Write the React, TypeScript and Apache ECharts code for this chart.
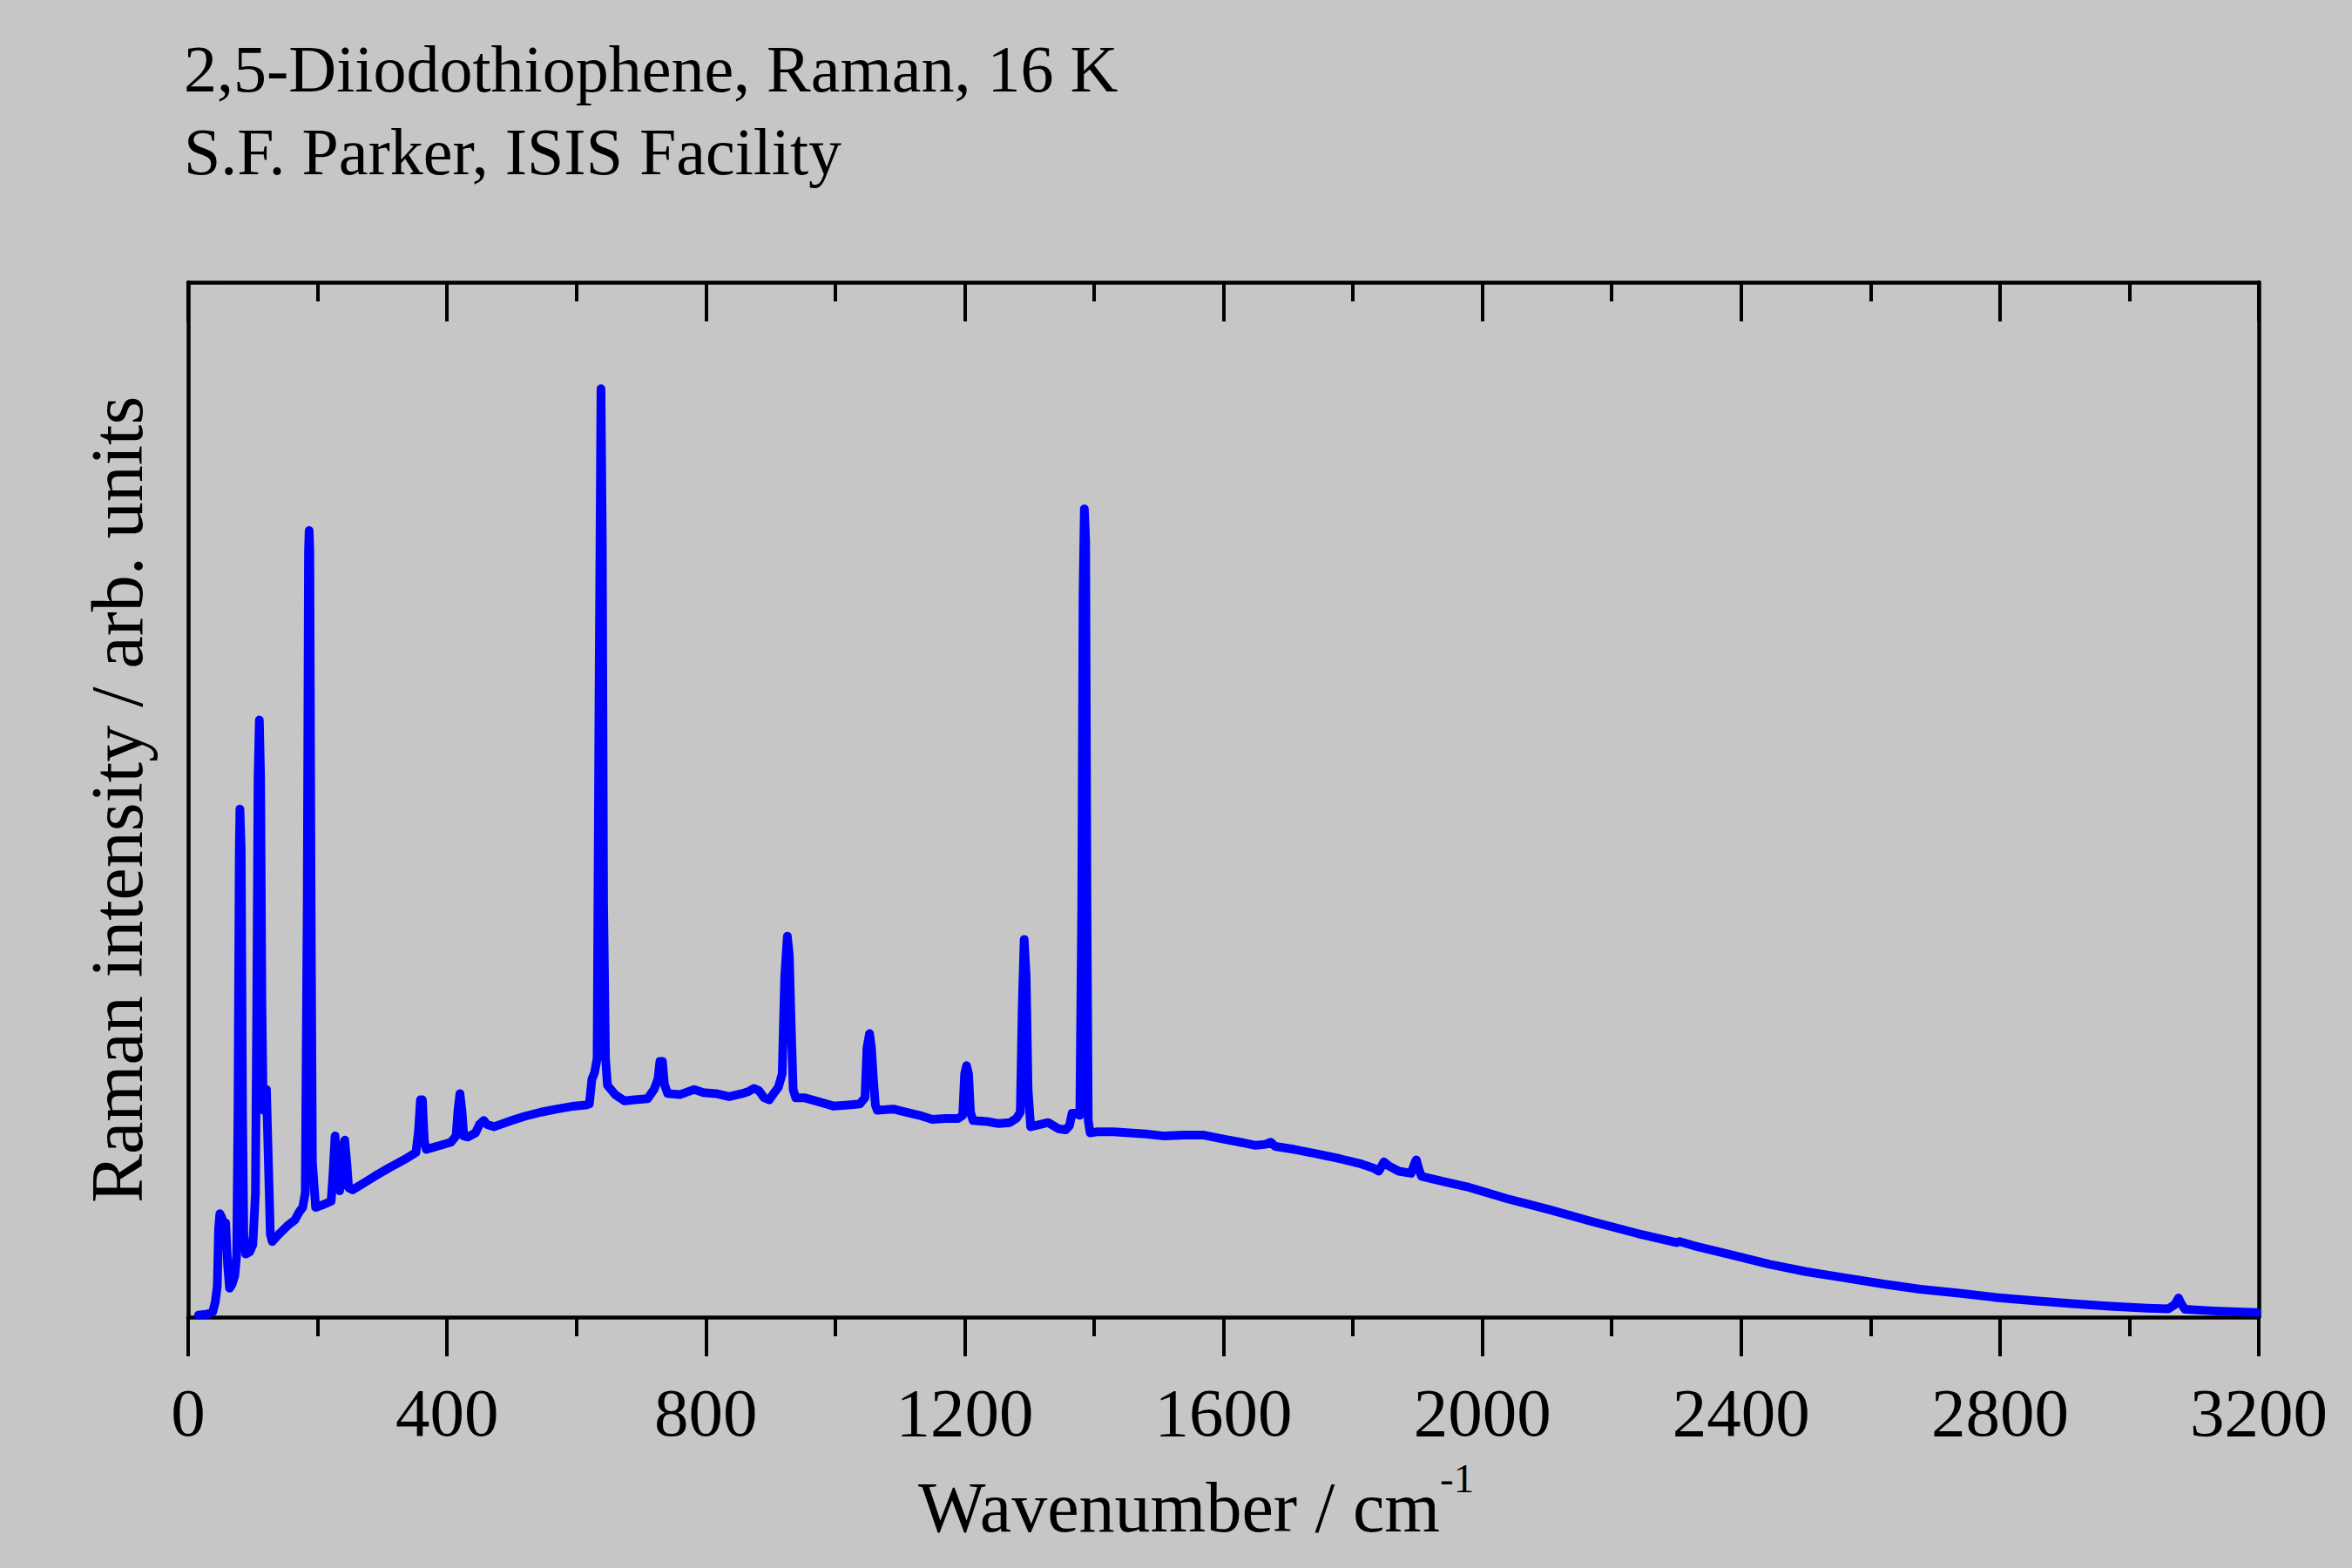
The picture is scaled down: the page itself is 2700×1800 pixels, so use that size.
import React, { useEffect, useRef } from "react";
import * as echarts from "echarts";

// Wavenumber (cm^-1) and Raman intensity (arb. units, 0-100 scale)
const wavenumbers: number[] = [
  16, 30, 38, 42, 45, 47, 49, 52, 55, 58, 61, 64, 68, 72, 75, 77, 79, 80, 82, 84, 86, 89, 95, 100,
  104, 106, 108, 110, 112, 114, 116, 118, 121, 124, 127, 130, 140, 153, 165, 172, 177, 181, 184, 186,
  187, 188, 190, 192, 197, 210, 221, 224, 227, 230, 234, 236, 239, 242, 245, 248, 254, 270, 288, 310,
  339, 352, 356, 359, 362, 365, 368, 373, 390, 406, 414, 417, 420, 423, 426, 432, 444, 450, 457, 462,
  473, 500, 520, 545, 570, 597, 615, 620, 624, 628, 632, 635, 638, 640, 642, 645, 648, 660, 674, 690,
  710, 720, 726, 729, 733, 736, 741, 760, 782, 796, 816, 836, 856, 866, 874, 882, 890, 898, 906, 912,
  918, 922, 926, 929, 932, 935, 939, 952, 975, 997, 1020, 1038, 1046, 1049, 1053, 1056, 1059, 1062,
  1065, 1090, 1110, 1130, 1150, 1170, 1190, 1197, 1200, 1203, 1206, 1209, 1213, 1235, 1253, 1270,
  1280, 1286, 1289, 1292, 1295, 1298, 1302, 1315, 1329, 1345, 1356, 1362, 1366, 1372, 1378, 1381,
  1383, 1385, 1387, 1389, 1391, 1394, 1404, 1430, 1455, 1480, 1509, 1540, 1568, 1600, 1626, 1650,
  1665, 1673, 1680, 1710, 1743, 1780, 1813, 1832, 1840, 1848, 1856, 1871, 1890, 1895, 1898, 1902,
  1906, 1940, 1976, 2038, 2106, 2173, 2240, 2300, 2305, 2327, 2380, 2444, 2500, 2560, 2620,
  2677, 2740, 2794, 2850, 2911, 2970, 3028, 3060, 3070, 3076, 3080, 3086, 3130, 3197,
];

const intensities: number[] = [
  0.2, 0.3, 0.5, 1.5, 3.0, 8.5, 10.0, 9.6, 9.0, 9.1, 5.0, 2.8, 3.2, 4.0, 6.0, 20, 45, 49.1, 45, 20, 8, 6.1, 6.3, 7.0,
  12, 30, 52, 57.7, 52, 30, 20, 21.5, 22, 15, 8, 7.3, 8.0, 8.8, 9.4, 10.2, 10.6, 12, 40, 74,
  76, 74, 40, 15, 10.6, 10.9, 11.2, 14, 17.5, 14, 12.2, 13, 16.5, 17.1, 15, 12.5, 12.3, 12.9, 13.6, 14.4,
  15.4, 15.9, 18, 21, 21, 17, 16.2, 16.3, 16.6, 16.9, 17.5, 20, 21.6, 20, 17.5, 17.4, 17.8, 18.6, 19.0, 18.6,
  18.4, 19.0, 19.4, 19.8, 20.1, 20.4, 20.5, 20.6, 23.0, 23.6, 25, 60, 89.7, 75, 40, 25, 22.4, 21.5, 20.9, 21.0,
  21.1, 22.0, 23, 24.7, 24.7, 22.5, 21.6, 21.5, 22.0, 21.7, 21.6, 21.3, 21.6, 21.8, 22.1, 21.9, 21.2, 21.0, 21.7, 22.2,
  23.5, 33, 36.8, 35, 28, 22, 21.2, 21.2, 20.8, 20.4, 20.5, 20.6, 21.2, 26, 27.4, 26, 23, 20.5,
  20.0, 20.1, 19.8, 19.5, 19.1, 19.2, 19.2, 19.5, 23.5, 24.3, 23.5, 19.8, 19.0, 18.9, 18.7, 18.8,
  19.2, 19.8, 30, 36.5, 33, 22, 18.4, 18.6, 18.8, 18.2, 18.1, 18.5, 19.7, 19.7, 19.5, 40,
  70, 78.1, 75, 40, 19, 17.8, 17.9, 17.9, 17.8, 17.7, 17.5, 17.6, 17.6, 17.2, 16.9, 16.6,
  16.7, 16.9, 16.5, 16.2, 15.8, 15.3, 14.8, 14.4, 14.1, 15.0, 14.6, 14.1, 13.9, 14.8, 15.2, 14.3,
  13.6, 13.1, 12.6, 11.45, 10.35, 9.17, 8.08, 7.2, 7.3, 6.9, 6.1, 5.1, 4.4, 3.8, 3.2,
  2.7, 2.3, 1.9, 1.6, 1.3, 1.05, 0.87, 0.8, 1.2, 1.85, 1.3, 0.75, 0.6, 0.45,
];

const xTicks = { min: 0, max: 3200, interval: 400 };
const titleLines: string[] = ["2,5-Diiodothiophene, Raman, 16 K", "S.F. Parker, ISIS Facility"];
const xAxisName = "Wavenumber / cm";
const xAxisSup = "-1";
const yAxisName = "Raman intensity / arb. units";

const FONT = "'Liberation Serif', 'Times New Roman', serif";

export default function App() {
  const ref = useRef<HTMLDivElement>(null);

  useEffect(() => {
    if (!ref.current) return;
    const chart = echarts.init(ref.current, undefined, { renderer: "svg" });
    const data = wavenumbers.map((x, i) => [x, intensities[i]]);

    const axisCommon = {
      type: "value" as const,
      min: xTicks.min,
      max: xTicks.max,
      interval: xTicks.interval,
      splitLine: { show: false },
      minorSplitLine: { show: false },
      axisLine: { show: true, onZero: false, lineStyle: { color: "#000", width: 4.5 } },
      minorTick: { show: true, splitNumber: 2, length: 22, lineStyle: { color: "#000", width: 4 } },
    };

    chart.setOption({
      animation: false,
      backgroundColor: "#c6c6c6",
      grid: { left: 216, right: 107, top: 324, bottom: 288, containLabel: false },
      graphic: [
        {
          type: "text",
          left: 211,
          top: 79 - 38,
          style: { text: titleLines[0], font: `76px ${FONT}`, fill: "#000" },
        },
        {
          type: "text",
          left: 211,
          top: 174 - 38,
          style: { text: titleLines[1], font: `76px ${FONT}`, fill: "#000" },
        },
        {
          type: "text",
          left: 1054,
          top: 1730 - 41,
          style: { text: xAxisName, font: `82px ${FONT}`, fill: "#000" },
        },
        {
          type: "text",
          left: 1653,
          top: 1697 - 23.5,
          style: { text: xAxisSup, font: `47px ${FONT}`, fill: "#000" },
        },
      ],
      xAxis: [
        {
          ...axisCommon,
          position: "bottom",
          axisTick: { show: true, inside: false, length: 45, lineStyle: { color: "#000", width: 4 } },
          axisLabel: {
            show: true,
            margin: 70,
            fontSize: 79,
            fontFamily: FONT,
            color: "#000",
            formatter: (v: number) => String(v),
          },
        },
        {
          ...axisCommon,
          position: "top",
          axisTick: { show: true, inside: true, length: 45, lineStyle: { color: "#000", width: 4 } },
          minorTick: { show: true, splitNumber: 2, length: 22, lineStyle: { color: "#000", width: 4 } },
          axisLabel: { show: false },
        },
      ],
      yAxis: [
        {
          type: "value",
          min: 0,
          max: 100,
          position: "left",
          splitLine: { show: false },
          axisTick: { show: false },
          axisLabel: { show: false },
          axisLine: { show: true, onZero: false, lineStyle: { color: "#000", width: 4.5 } },
          name: yAxisName,
          nameLocation: "middle",
          nameGap: 40,
          nameTextStyle: { fontSize: 84, fontFamily: FONT, color: "#000" },
        },
        {
          type: "value",
          min: 0,
          max: 100,
          position: "right",
          splitLine: { show: false },
          axisTick: { show: false },
          axisLabel: { show: false },
          axisLine: { show: true, onZero: false, lineStyle: { color: "#000", width: 4.5 } },
        },
      ],
      series: [
        {
          type: "line",
          xAxisIndex: 0,
          yAxisIndex: 0,
          data,
          showSymbol: false,
          symbol: "none",
          lineStyle: { color: "#0000ff", width: 10, join: "round", cap: "round" },
          z: 1,
        },
      ],
    });

    return () => chart.dispose();
  }, []);

  return (
    <div
      ref={ref}
      style={{ position: "fixed", left: 0, top: 0, width: 2700, height: 1800 }}
    />
  );
}
